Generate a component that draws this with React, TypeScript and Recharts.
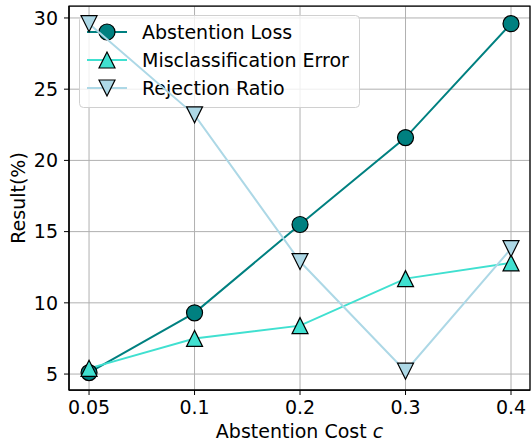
import React from 'react';
import { LineChart, Line, XAxis, YAxis, CartesianGrid, ReferenceArea, Customized } from 'recharts';

const costs = ['0.05', '0.1', '0.2', '0.3', '0.4'];
const abstentionLoss = [5.1, 9.3, 15.5, 21.6, 29.6];
const misclassError = [5.4, 7.5, 8.4, 11.7, 12.8];
const rejectionRatio = [29.6, 23.2, 12.9, 5.2, 13.8];
const yTicks = [5, 10, 15, 20, 25, 30];

const data = costs.map((c, i) => ({
  x: i,
  loss: abstentionLoss[i],
  err: misclassError[i],
  rej: rejectionRatio[i],
}));

const FONT = 'DejaVu Sans, sans-serif';
const FS = 19;
const C_LOSS = '#008080';
const C_ERR = '#40E0D0';
const C_REJ = '#ADD8E6';

const circle = (cx: number, cy: number, fill: string, key?: any) => (
  <circle key={key} cx={cx} cy={cy} r={8} fill={fill} stroke="#000" strokeWidth={1.2} />
);
const triUp = (cx: number, cy: number, fill: string, key?: any) => (
  <polygon key={key} points={`${cx},${cy - 8} ${cx - 8},${cy + 8} ${cx + 8},${cy + 8}`} fill={fill} stroke="#000" strokeWidth={1.2} />
);
const triDown = (cx: number, cy: number, fill: string, key?: any) => (
  <polygon key={key} points={`${cx},${cy + 8} ${cx - 8},${cy - 8} ${cx + 8},${cy - 8}`} fill={fill} stroke="#000" strokeWidth={1.2} />
);

// legend sits above the grid but under the series, like the reference
const LegendBox = () => {
  const rows = [
    { name: 'Abstention Loss', color: C_LOSS, mark: circle },
    { name: 'Misclassification Error', color: C_ERR, mark: triUp },
    { name: 'Rejection Ratio', color: C_REJ, mark: triDown },
  ];
  return (
    <g>
      <rect x={79.5} y={15.5} width={280} height={92} rx={4} fill="rgba(255,255,255,0.8)" stroke="#d0d0d0" strokeWidth={1} />
      {rows.map((r, i) => {
        const y = 32 + i * 28;
        return (
          <g key={r.name}>
            <line x1={87} x2={127} y1={y} y2={y} stroke={r.color} strokeWidth={2} />
            {r.mark(107, y, r.color)}
            <text x={142} y={y + 7} fontSize={FS} fontFamily={FONT} fill="#000">{r.name}</text>
          </g>
        );
      })}
    </g>
  );
};

export default function App() {
  return (
    <div style={{ position: 'absolute', left: 0, top: 0 }}>
      <LineChart width={531} height={448} data={data} margin={{ top: 6, right: 1, left: 0, bottom: 0 }}>
        <CartesianGrid stroke="#b0b0b0" strokeWidth={1} />
        <XAxis
          dataKey="x"
          type="number"
          domain={[-0.19, 4.18]}
          ticks={[0, 1, 2, 3, 4]}
          tickFormatter={(v: number) => costs[v]}
          height={58}
          tickSize={5}
          tickMargin={6}
          tick={{ fontSize: FS, fontFamily: FONT, fill: '#000' }}
          stroke="#000"
          tickLine={{ stroke: '#000' }}
          axisLine={{ stroke: '#000', strokeWidth: 1.25 }}
          label={{
            value: 'Abstention Cost',
            position: 'insideBottom',
            content: (props: any) => {
              const vb = props.viewBox;
              const cx = vb.x + vb.width / 2;
              return (
                <text x={cx} y={438} textAnchor="middle" fontSize={FS} fontFamily={FONT} fill="#000">
                  Abstention Cost <tspan fontStyle="italic">c</tspan>
                </text>
              );
            },
          }}
        />
        <YAxis
          type="number"
          domain={[3.88, 30.84]}
          ticks={yTicks}
          width={69}
          tickSize={5}
          tickMargin={6}
          tick={{ fontSize: FS, fontFamily: FONT, fill: '#000' }}
          stroke="#000"
          axisLine={{ stroke: '#000', strokeWidth: 1.25 }}
          label={{
            value: 'Result(%)',
            position: 'insideLeft',
            content: () => (
              <text x={25} y={198} transform="rotate(-90 25 198)" textAnchor="middle" fontSize={FS} fontFamily={FONT} fill="#000">
                Result(%)
              </text>
            ),
          }}
        />
        <ReferenceArea x1={-0.19} x2={4.18} y1={3.88} y2={30.84} fill="none" stroke="#000" strokeWidth={1.25} ifOverflow="visible" />
        <Customized component={LegendBox} />
        <Line
          dataKey="loss"
          stroke={C_LOSS}
          strokeWidth={2}
          isAnimationActive={false}
          dot={(p: any) => circle(p.cx, p.cy, C_LOSS, `l${p.index}`)}
        />
        <Line
          dataKey="err"
          stroke={C_ERR}
          strokeWidth={2}
          isAnimationActive={false}
          dot={(p: any) => triUp(p.cx, p.cy, C_ERR, `e${p.index}`)}
        />
        <Line
          dataKey="rej"
          stroke={C_REJ}
          strokeWidth={2}
          isAnimationActive={false}
          dot={(p: any) => triDown(p.cx, p.cy, C_REJ, `r${p.index}`)}
        />
      </LineChart>
    </div>
  );
}
